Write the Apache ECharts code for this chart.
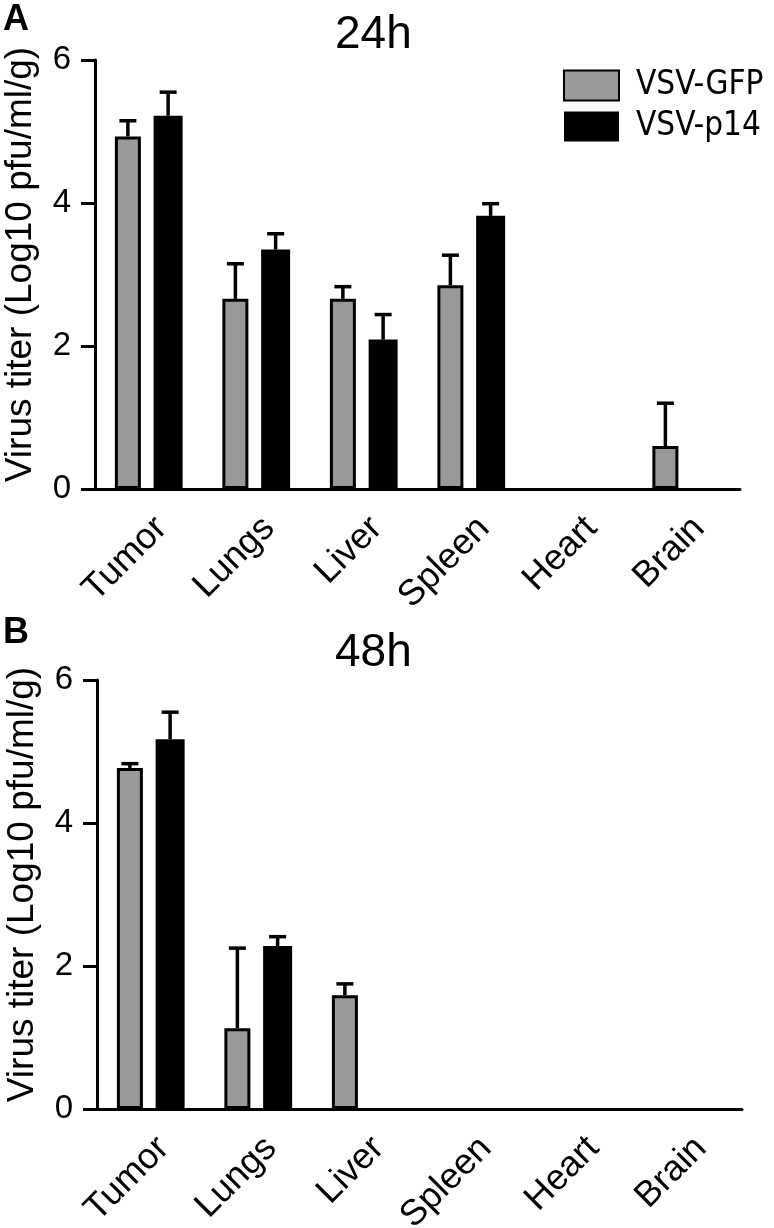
<!DOCTYPE html>
<html>
<head>
<meta charset="utf-8">
<title>Virus titer 24h / 48h</title>
<script src="https://cdn.jsdelivr.net/npm/echarts@6/dist/echarts.min.js"></script>
<style>
  html, body { margin: 0; padding: 0; background: #fff; }
  #chart { width: 774px; height: 1228px; }
</style>
</head>
<body>
<div id="chart"></div>
<script>
// data (Log10 pfu/ml/g), null = not detected
const organs = ['Tumor', 'Lungs', 'Liver', 'Spleen', 'Heart', 'Brain']
const yTicks = [0, 2, 4, 6]

const gfp24 = [4.93, 2.66, 2.66, 2.85, null, 0.60]
const gfp24Err = [0.22, 0.49, 0.17, 0.42, null, 0.60]
const p1424 = [5.22, 3.35, 2.09, 3.82, null, null]
const p1424Err = [0.33, 0.22, 0.35, 0.17, null, null]

const gfp48 = [4.77, 1.13, 1.59, null, null, null]
const gfp48Err = [0.06, 1.12, 0.16, null, null, null]
const p1448 = [5.17, 2.28, null, null, null, null]
const p1448Err = [0.38, 0.13, null, null, null, null]

const FONT = '"Liberation Sans", Arial, Helvetica, sans-serif'
const GRAY_W = 26 // bar width of gray bars (plus 3px border)
const BLACK_W = 29
const BAR_GAP = 0.49
const CAP = 17

// same arithmetic as echarts bar layout, to put error bars on the bar centres
const sumW = GRAY_W * (1 + BAR_GAP) + BLACK_W
const grayOffset = -sumW / 2 + GRAY_W / 2
const blackOffset = -sumW / 2 + GRAY_W * (1 + BAR_GAP) + BLACK_W / 2

function errData(means, errs) {
  const out = []
  means.forEach(function(m, i) {
    if (m !== null && errs[i] !== null) out.push([i, m, errs[i]])
  })
  return out
}

function errorRender(offset) {
  return function(params, api) {
    const cat = api.value(0)
    const mean = api.value(1)
    const err = api.value(2)
    const base = api.coord([cat, mean])
    const top = api.coord([cat, mean + err])
    const x = base[0] + offset
    const style = { stroke: '#000', lineWidth: 3.5 }
    return {
      type: 'group',
      children: [
        { type: 'line', shape: { x1: x, y1: base[1], x2: x, y2: top[1] }, style: style },
        { type: 'line', shape: { x1: x - CAP / 2, y1: top[1], x2: x + CAP / 2, y2: top[1] }, style: style }
      ]
    }
  }
}

function xAxis(gridIndex) {
  return {
    type: 'category',
    gridIndex: gridIndex,
    data: organs,
    boundaryGap: true,
    axisLine: { lineStyle: { color: '#000', width: 3 } },
    axisTick: { alignWithLabel: true, length: 14, lineStyle: { color: '#000', width: 3 } },
    axisLabel: {
      interval: 0,
      rotate: 45,
      margin: 21,
      align: 'right',
      verticalAlign: 'top',
      color: '#000',
      fontSize: 36,
      fontFamily: FONT
    }
  }
}

function yAxis(gridIndex) {
  return {
    type: 'value',
    gridIndex: gridIndex,
    min: yTicks[0],
    max: yTicks[yTicks.length - 1],
    interval: 2,
    name: 'Virus titer (Log10 pfu/ml/g)',
    nameLocation: 'middle',
    nameGap: 56,
    nameMoveOverlap: false,
    nameTextStyle: { color: '#000', fontSize: 37, fontFamily: FONT, padding: [0, 0, 0, 20] },
    splitLine: { show: false },
    axisLine: { show: true, lineStyle: { color: '#000', width: 3 } },
    axisTick: { show: true, length: 14, lineStyle: { color: '#000', width: 3 } },
    axisLabel: { margin: 24, color: '#000', fontSize: 33, fontFamily: FONT }
  }
}

function barSeries(name, data, idx, gray) {
  return {
    name: name,
    type: 'bar',
    xAxisIndex: idx,
    yAxisIndex: idx,
    data: data.map(function(v) { return v === null ? '-' : v }),
    barWidth: gray ? GRAY_W : BLACK_W,
    barGap: (BAR_GAP * 100) + '%',
    itemStyle: gray
      ? { color: '#999999', borderColor: '#000', borderWidth: 3 }
      : { color: '#000' },
    animation: false
  }
}

function errSeries(means, errs, idx, offset) {
  return {
    type: 'custom',
    xAxisIndex: idx,
    yAxisIndex: idx,
    data: errData(means, errs),
    renderItem: errorRender(offset),
    z: 3,
    animation: false
  }
}

const chart = echarts.init(document.getElementById('chart'))

chart.setOption({
  backgroundColor: '#fff',
  animation: false,
  textStyle: { fontFamily: FONT },
  title: [
    { text: 'A', left: 3, top: 2, padding: 0, textStyle: { fontSize: 36, fontWeight: 'bold', color: '#000', fontFamily: FONT } },
    { text: '24h', left: 335, top: 12, padding: 0, textStyle: { fontSize: 46, fontWeight: 'normal', color: '#000', fontFamily: FONT } },
    { text: 'B', left: 3, top: 615, padding: 0, textStyle: { fontSize: 36, fontWeight: 'bold', color: '#000', fontFamily: FONT } },
    { text: '48h', left: 335, top: 630, padding: 0, textStyle: { fontSize: 46, fontWeight: 'normal', color: '#000', fontFamily: FONT } }
  ],
  legend: {
    data: ['VSV-GFP', 'VSV-p14'],
    orient: 'vertical',
    left: 563,
    top: 69,
    padding: 0,
    icon: 'rect',
    itemWidth: 55,
    itemHeight: 30,
    itemGap: 8,
    selectedMode: false,
    textStyle: {
      color: '#000',
      fontSize: 33,
      lineHeight: 30,
      padding: [0, 0, 0, 12],
      fontFamily: '"DejaVu Sans Condensed", "Liberation Sans Narrow", ' + FONT
    }
  },
  grid: [
    { left: 95, width: 645, top: 60, height: 429, containLabel: false, outerBoundsMode: 'none' },
    { left: 97, width: 645, top: 680, height: 429, containLabel: false, outerBoundsMode: 'none' }
  ],
  xAxis: [xAxis(0), xAxis(1)],
  yAxis: [yAxis(0), yAxis(1)],
  series: [
    barSeries('VSV-GFP', gfp24, 0, true),
    barSeries('VSV-p14', p1424, 0, false),
    errSeries(gfp24, gfp24Err, 0, grayOffset),
    errSeries(p1424, p1424Err, 0, blackOffset),
    barSeries('VSV-GFP', gfp48, 1, true),
    barSeries('VSV-p14', p1448, 1, false),
    errSeries(gfp48, gfp48Err, 1, grayOffset),
    errSeries(p1448, p1448Err, 1, blackOffset)
  ]
})
</script>
</body>
</html>
